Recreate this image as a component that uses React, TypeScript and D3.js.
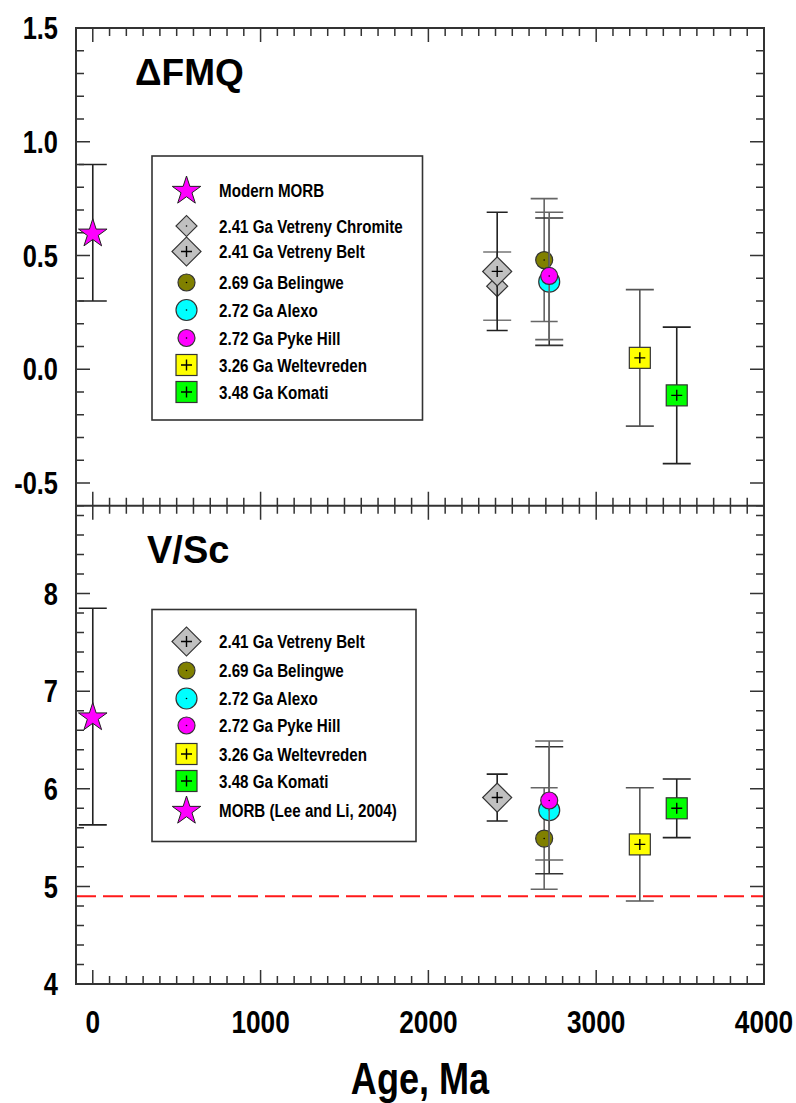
import React from "react";
import * as d3 from "d3";

// ---- data -------------------------------------------------------------
const xTickValues = [0, 1000, 2000, 3000, 4000];
const fmqTickValues = [1.5, 1.0, 0.5, 0.0, -0.5];
const fmqTickLabels = ["1.5", "1.0", "0.5", "0.0", "-0.5"];
const vscTickValues = [4, 5, 6, 7, 8];

// ΔFMQ panel
const fmqNames = [
  "Modern MORB",
  "2.41 Ga Vetreny Chromite",
  "2.41 Ga Vetreny Belt",
  "2.69 Ga Belingwe",
  "2.72 Ga Alexo",
  "2.72 Ga Pyke Hill",
  "3.26 Ga Weltevreden",
  "3.48 Ga Komati",
];
const fmqAge = [0, 2410, 2410, 2690, 2720, 2720, 3260, 3480];
const fmqValue = [0.6, 0.365, 0.43, 0.48, 0.385, 0.41, 0.05, -0.115];
const fmqError = [0.3, 0.15, 0.26, 0.27, 0.28, 0.28, 0.3, 0.3];

// V/Sc panel
const vscNames = [
  "2.41 Ga Vetreny Belt",
  "2.69 Ga Belingwe",
  "2.72 Ga Alexo",
  "2.72 Ga Pyke Hill",
  "3.26 Ga Weltevreden",
  "3.48 Ga Komati",
  "MORB (Lee and Li, 2004)",
];
const vscAge = [2410, 2690, 2720, 2720, 3260, 3480, 0];
const vscValue = [5.91, 5.49, 5.78, 5.88, 5.43, 5.8, 6.74];
const vscError = [0.24, 0.52, 0.65, 0.61, 0.58, 0.3, 1.11];

const vscReference = 4.9;

// ---- styles -----------------------------------------------------------
type Marker = {
  shape: "star" | "diamond" | "circle" | "square";
  size: number;
  fill: string;
  inner: "plus" | "dot" | "none";
  bar: string;
  cap: number;
};

const markerStyle: Record<string, Marker> = {
  "Modern MORB": { shape: "star", size: 15, fill: "#ff00ff", inner: "none", bar: "#222", cap: 14 },
  "MORB (Lee and Li, 2004)": { shape: "star", size: 15, fill: "#ff00ff", inner: "none", bar: "#222", cap: 14 },
  "2.41 Ga Vetreny Chromite": { shape: "diamond", size: 10.5, fill: "#c0c0c0", inner: "dot", bar: "#777", cap: 14 },
  "2.41 Ga Vetreny Belt": { shape: "diamond", size: 14.5, fill: "#c0c0c0", inner: "plus", bar: "#222", cap: 10.5 },
  "2.69 Ga Belingwe": { shape: "circle", size: 8.5, fill: "#808000", inner: "dot", bar: "#666", cap: 13.5 },
  "2.72 Ga Alexo": { shape: "circle", size: 10.5, fill: "#00ffff", inner: "dot", bar: "#333", cap: 14 },
  "2.72 Ga Pyke Hill": { shape: "circle", size: 8.5, fill: "#ff00ff", inner: "dot", bar: "#666", cap: 14 },
  "3.26 Ga Weltevreden": { shape: "square", size: 10.5, fill: "#ffff00", inner: "plus", bar: "#555", cap: 14 },
  "3.48 Ga Komati": { shape: "square", size: 10.5, fill: "#00ff00", inner: "plus", bar: "#222", cap: 14 },
};

const SANS = '"Liberation Sans", Arial, sans-serif';
const AXIS = "#333";
// horizontal squeeze giving a condensed bold face
const NARROW_X = 0.82;

// ---- layout -----------------------------------------------------------
const W = 796;
const H = 1103;
const left = 76;
const right = 764;
const top = 28;
const mid = 505.7;
const bottom = 984;

const x = d3.scaleLinear().domain([-100, 4000]).range([left, right]);
const yF = d3.scaleLinear().domain([-0.6, 1.5]).range([mid, top]);
const yV = d3.scaleLinear().domain([4, 8.9]).range([bottom, mid]);

const STAR_K = 0.8908130915292852;

function NText({
  x: tx,
  y: ty,
  size,
  anchor = "start",
  dy = "0",
  children,
}: {
  x: number;
  y: number;
  size: number;
  anchor?: "start" | "middle" | "end";
  dy?: string;
  children: React.ReactNode;
}) {
  return (
    <g transform={`translate(${tx},${ty}) scale(${NARROW_X},1)`}>
      <text x={0} y={0} dy={dy} textAnchor={anchor} fontFamily={SANS} fontWeight="bold" fontSize={size} fill="#000">
        {children}
      </text>
    </g>
  );
}

function Symbol({ cx, cy, m }: { cx: number; cy: number; m: Marker }) {
  const stroke = "#333";
  let shape: React.ReactNode = null;
  if (m.shape === "star") {
    const s = d3.symbol(d3.symbolStar, (m.size * m.size) / STAR_K)();
    shape = <path d={s || ""} transform={`translate(${cx},${cy + 1})`} fill={m.fill} stroke="#222" strokeWidth={1} />;
  } else if (m.shape === "diamond") {
    const w = m.size * Math.SQRT2;
    const s = d3.symbol(d3.symbolSquare, w * w)();
    shape = <path d={s || ""} transform={`translate(${cx},${cy}) rotate(45)`} fill={m.fill} stroke={stroke} strokeWidth={1.2} />;
  } else if (m.shape === "circle") {
    shape = <circle cx={cx} cy={cy} r={m.size} fill={m.fill} stroke={stroke} strokeWidth={1.2} />;
  } else {
    shape = (
      <rect x={cx - m.size} y={cy - m.size} width={m.size * 2} height={m.size * 2} fill={m.fill} stroke={stroke} strokeWidth={1.2} />
    );
  }
  return (
    <g>
      {shape}
      {m.inner === "plus" && (
        <path d={`M${cx - 5.5},${cy}H${cx + 5.5}M${cx},${cy - 5.5}V${cy + 5.5}`} stroke="#000" strokeWidth={1.4} />
      )}
      {m.inner === "dot" && <circle cx={cx} cy={cy} r={0.8} fill="#000" />}
    </g>
  );
}

function Series({
  names,
  ages,
  values,
  errors,
  y,
}: {
  names: string[];
  ages: number[];
  values: number[];
  errors: number[];
  y: d3.ScaleLinear<number, number>;
}) {
  return (
    <g>
      {names.map((n, i) => {
        const m = markerStyle[n];
        const cx = x(ages[i]);
        const y0 = y(values[i] + errors[i]);
        const y1 = y(values[i] - errors[i]);
        return (
          <g key={n}>
            <path
              d={`M${cx},${y0}V${y1}M${cx - m.cap},${y0}H${cx + m.cap}M${cx - m.cap},${y1}H${cx + m.cap}`}
              stroke={m.bar}
              strokeWidth={1.6}
              fill="none"
            />
            <Symbol cx={cx} cy={y(values[i])} m={m} />
          </g>
        );
      })}
    </g>
  );
}

function Legend({
  names,
  x0,
  y0,
  x1,
  y1,
  rows,
}: {
  names: string[];
  x0: number;
  y0: number;
  x1: number;
  y1: number;
  rows: number[];
}) {
  return (
    <g>
      <rect x={x0} y={y0} width={x1 - x0} height={y1 - y0} fill="#fff" stroke={AXIS} strokeWidth={1.6} />
      {names.map((n, i) => (
        <g key={n}>
          <Symbol cx={x0 + 34.5} cy={rows[i]} m={markerStyle[n]} />
          <NText x={x0 + 67} y={rows[i]} size={18.5} dy="0.36em">
            {n}
          </NText>
        </g>
      ))}
    </g>
  );
}

export default function App() {
  const xMinor = d3.range(0, 4001, 100);
  const fMinor = d3.range(-6, 16).map((v) => v / 10);
  const vMinor = d3.range(20, 45).map((v) => v / 5);
  const MAJ = 14;
  const MIN = 8;

  const isXMajor = (v: number) => v % 1000 === 0;
  const isFMajor = (v: number) => Math.abs(Math.round(v * 10) % 5) === 0;
  const isVMajor = (v: number) => Math.abs(v - Math.round(v)) < 1e-9;

  const tickPaths: string[] = [];
  xMinor.forEach((v) => {
    const len = isXMajor(v) ? MAJ : MIN;
    const px = x(v);
    tickPaths.push(`M${px},${top}V${top + len}`);
    tickPaths.push(`M${px},${mid - len}V${mid + len}`);
    tickPaths.push(`M${px},${bottom}V${bottom - len}`);
  });
  fMinor.forEach((v) => {
    const len = isFMajor(v) ? MAJ : MIN;
    const py = yF(v);
    tickPaths.push(`M${left},${py}H${left + len}`);
    tickPaths.push(`M${right},${py}H${right - len}`);
  });
  vMinor.forEach((v) => {
    const len = isVMajor(v) ? MAJ : MIN;
    const py = yV(v);
    tickPaths.push(`M${left},${py}H${left + len}`);
    tickPaths.push(`M${right},${py}H${right - len}`);
  });

  return (
    <svg
      width={W}
      height={H}
      viewBox={`0 0 ${W} ${H}`}
      style={{ position: "absolute", left: 0, top: 0, background: "#fff" }}
    >
      <rect width={W} height={H} fill="#fff" />

      {/* reference V/Sc level */}
      <line
        x1={left}
        x2={right}
        y1={yV(vscReference)}
        y2={yV(vscReference)}
        stroke="#ff1a1a"
        strokeWidth={2}
        strokeDasharray="20,7"
      />

      <Legend
        names={fmqNames}
        x0={152}
        y0={156}
        x1={422.5}
        y1={420}
        rows={[190, 226, 251.5, 282.5, 310, 338, 365, 392]}
      />
      <Legend
        names={vscNames}
        x0={152}
        y0={609.5}
        x1={416}
        y1={841.5}
        rows={[641.5, 670.5, 698.5, 725.5, 754, 781, 810]}
      />

      <Series names={fmqNames} ages={fmqAge} values={fmqValue} errors={fmqError} y={yF} />
      <Series names={vscNames} ages={vscAge} values={vscValue} errors={vscError} y={yV} />

      {/* frame and ticks */}
      <path d={tickPaths.join("")} stroke={AXIS} strokeWidth={1.5} fill="none" />
      <rect x={left} y={top} width={right - left} height={bottom - top} fill="none" stroke={AXIS} strokeWidth={2} />
      <line x1={left} x2={right} y1={mid} y2={mid} stroke={AXIS} strokeWidth={2} />

      {/* tick labels */}
      {fmqTickValues.map((v, i) => (
        <NText key={`f${i}`} x={58} y={yF(v)} size={31} anchor="end" dy="0.36em">
          {fmqTickLabels[i]}
        </NText>
      ))}
      {vscTickValues.map((v) => (
        <NText key={`v${v}`} x={58} y={yV(v)} size={31} anchor="end" dy="0.36em">
          {v}
        </NText>
      ))}
      {xTickValues.map((v) => (
        <NText key={`x${v}`} x={x(v)} y={1033} size={32} anchor="middle">
          {v}
        </NText>
      ))}

      {/* panel titles */}
      <text x={135} y={85} fontFamily={SANS} fontWeight="bold" fontSize={37} fill="#000">
        ΔFMQ
      </text>
      <text x={147} y={563} fontFamily={SANS} fontWeight="bold" fontSize={38} fill="#000">
        V/Sc
      </text>

      {/* axis title */}
      <NText x={x(1950)} y={1094} size={44} anchor="middle">
        Age, Ma
      </NText>
    </svg>
  );
}
